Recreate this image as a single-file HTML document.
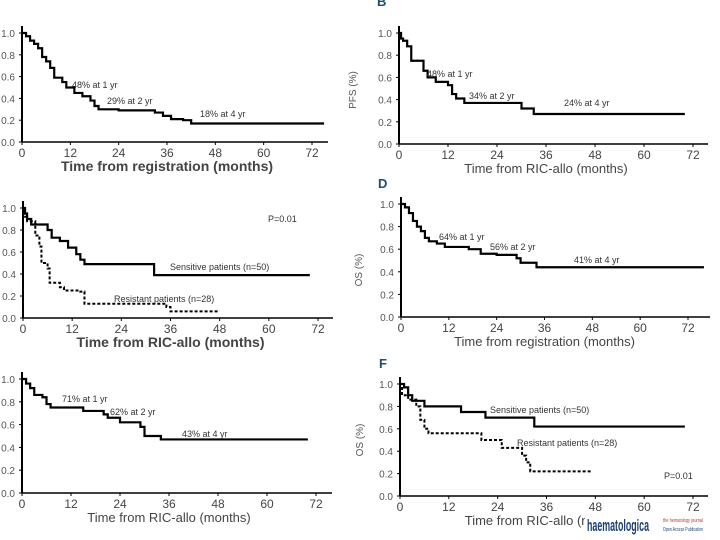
<!DOCTYPE html>
<html><head><meta charset="utf-8"><style>
body{margin:0;background:#fff;width:720px;height:540px;overflow:hidden}
svg{display:block;font-family:"Liberation Sans",sans-serif}
</style></head><body>
<svg id="fig" width="720" height="540" viewBox="0 0 720 540" xmlns="http://www.w3.org/2000/svg"></svg>
<script>
const xTicks=[0,12,24,36,48,60,72];
const yTicks=[0,0.2,0.4,0.6,0.8,1.0];
const aT=[0,1,2,3,4,5,6,7,8,10,11,13,15,17,18,19,24,33,35,37,40,42,75];
const aS=[1,0.97,0.93,0.9,0.86,0.78,0.74,0.68,0.59,0.55,0.5,0.45,0.42,0.38,0.33,0.3,0.29,0.27,0.24,0.21,0.2,0.17,0.17];
const bT=[0,0.5,1,2,3,6,7,9,12,13,14,16,30,33,70];
const bS=[1,0.95,0.93,0.88,0.75,0.66,0.6,0.56,0.53,0.45,0.41,0.37,0.32,0.27,0.27];
const cST=[0,0.5,1,2,6,7,9,11,13,14,15,32,70];
const cSS=[1,0.95,0.9,0.85,0.8,0.73,0.7,0.64,0.58,0.53,0.49,0.39,0.39];
const cRT=[0,0.3,1,3,4,4.5,6,6.5,9,10,14,15,35,36,48];
const cRS=[1,0.92,0.88,0.75,0.65,0.5,0.45,0.32,0.28,0.25,0.24,0.13,0.1,0.06,0.06];
const dT=[0,1,2,3,4,5,6,7,9,11,17,20,24,29,30,34,76];
const dS=[1,0.97,0.92,0.85,0.8,0.76,0.7,0.67,0.65,0.62,0.6,0.56,0.55,0.52,0.48,0.44,0.44];
const eT=[0,1,2,3,5,6,7,15,20,21,24,29,30,34,70];
const eS=[1,0.96,0.92,0.86,0.84,0.78,0.75,0.72,0.69,0.66,0.62,0.58,0.5,0.47,0.47];
const fST=[0,1,2,3,6,15,21,33,70];
const fSS=[1,0.97,0.9,0.85,0.8,0.75,0.7,0.62,0.62];
const fRT=[0,0.5,2,4,5,6,7,20,25,30,31,32,47];
const fRS=[1,0.9,0.86,0.8,0.68,0.6,0.56,0.5,0.43,0.36,0.3,0.22,0.22];

const svg=document.getElementById('fig');
const NS='http://www.w3.org/2000/svg';
function mk(tag,attrs,txt){const e=document.createElementNS(NS,tag);for(const k in attrs)e.setAttribute(k,attrs[k]);if(txt!=null)e.textContent=txt;svg.appendChild(e);return e;}

const panels=[
 {id:'a',x0:22,x72:312,y1:33,y0:142,xe:328,title:'Time from registration (months)',bold:true,series:[[aT,aS,false]],notes:[[72,88,'48% at 1 yr'],[107,104,'29% at 2 yr'],[200,117,'18% at 4 yr']]},
 {id:'b',x0:399,x72:693,y1:33,y0:144,xe:708,title:'Time from RIC-allo (months)',bold:false,series:[[bT,bS,false]],notes:[[427,77,'48% at 1 yr'],[469,99,'34% at 2 yr'],[564,106,'24% at 4 yr']],ylab:'PFS (%)',ylx:356,yly:90,letter:'B',lx:377,ly:6},
 {id:'c',x0:23,x72:318,y1:208,y0:318,xe:333,title:'Time from RIC-allo (months)',bold:true,series:[[cST,cSS,false],[cRT,cRS,true]],notes:[[170,270,'Sensitive patients (n=50)'],[114,302,'Resistant patients (n=28)'],[268,222,'P=0.01']]},
 {id:'d',x0:401,x72:688,y1:204,y0:317,xe:710,title:'Time from registration (months)',bold:false,series:[[dT,dS,false]],notes:[[439,240,'64% at 1 yr'],[490,250,'56% at 2 yr'],[574,263,'41% at 4 yr']],ylab:'OS (%)',ylx:362,yly:270,letter:'D',lx:378,ly:188},
 {id:'e',x0:22,x72:316,y1:379,y0:493,xe:332,title:'Time from RIC-allo (months)',bold:false,series:[[eT,eS,false]],notes:[[62,402,'71% at 1 yr'],[110,415,'62% at 2 yr'],[182,437,'43% at 4 yr']]},
 {id:'f',x0:400,x72:693,y1:384,y0:496,xe:708,title:'Time from RIC-allo (months)',bold:false,series:[[fST,fSS,false],[fRT,fRS,true]],notes:[[490,413,'Sensitive patients (n=50)'],[517,446,'Resistant patients (n=28)'],[664,479,'P=0.01']],ylab:'OS (%)',ylx:363,yly:440,letter:'F',lx:379,ly:368}
];

panels.forEach(p=>{
 const sx=m=>p.x0+(p.x72-p.x0)*m/72;
 const sy=v=>p.y0-(p.y0-p.y1)*v;
 let e=mk('line',{x1:p.x0,y1:p.y1-7,x2:p.x0,y2:p.y0,stroke:'#000','stroke-width':2});
 
 
 e=mk('line',{x1:p.x0,y1:p.y0,x2:p.xe,y2:p.y0,stroke:'#000','stroke-width':1.5});
 
 
 yTicks.forEach(v=>{
  mk('line',{x1:p.x0-3,x2:p.x0,y1:sy(v),y2:sy(v),stroke:'#000'});
  e=mk('text',{x:p.x0-7,y:sy(v)+4,'text-anchor':'end','font-size':10,fill:'#555'},v.toFixed(1));
  
  
 });
 xTicks.forEach(m=>{
  mk('line',{x1:sx(m),x2:sx(m),y1:p.y0,y2:p.y0+3,stroke:'#000'});
  e=mk('text',{x:sx(m),y:p.y0+15,'text-anchor':'middle','font-size':12,fill:'#444'},m);
  
  
 });
 e=mk('text',{x:(p.x0+p.x72)/2,y:p.y0+29,'text-anchor':'middle','font-size':p.bold?14:13,'font-weight':p.bold?'bold':'normal',fill:'#444'},p.title);
 
 
 p.series.forEach(s=>{
  const [T,S,dash]=s;
  let d='M'+sx(T[0])+','+sy(S[0]);
  for(let i=1;i<T.length;i++){d+=' H'+sx(T[i])+' V'+sy(S[i]);}
  const a={d:d,fill:'none',stroke:'#000','stroke-width':dash?2:2.2};
  if(dash)a['stroke-dasharray']='3,2';
  e=mk('path',a);
  
  
 });
 p.notes.forEach(n=>{
  e=mk('text',{x:n[0],y:n[1],'font-size':9,fill:'#333'},n[2]);
  
  
 });
 if(p.ylab){
  e=mk('text',{x:p.ylx,y:p.yly,'font-size':10,fill:'#555','text-anchor':'middle',transform:'rotate(-90 '+p.ylx+' '+p.yly+')'},p.ylab);
  
  
  e=mk('text',{x:p.lx,y:p.ly,'font-size':13,'font-weight':'bold',fill:'#1d4f6e'},p.letter);
  
  
 }
});
let bg=mk('rect',{x:585,y:514,width:66,height:24,fill:'#fff'});


let lg=mk('text',{x:587,y:531,'font-size':17,'font-weight':'bold',fill:'#1b3f73',textLength:62,lengthAdjust:'spacingAndGlyphs'},'haematologica');


lg=mk('text',{x:663,y:522,'font-size':5.5,fill:'#c0392b',textLength:40,lengthAdjust:'spacingAndGlyphs'},'the hematology journal');


lg=mk('text',{x:663,y:531,'font-size':5.5,fill:'#1b3f73',textLength:40,lengthAdjust:'spacingAndGlyphs'},'Open Access Publication');


</script>
</body></html>
